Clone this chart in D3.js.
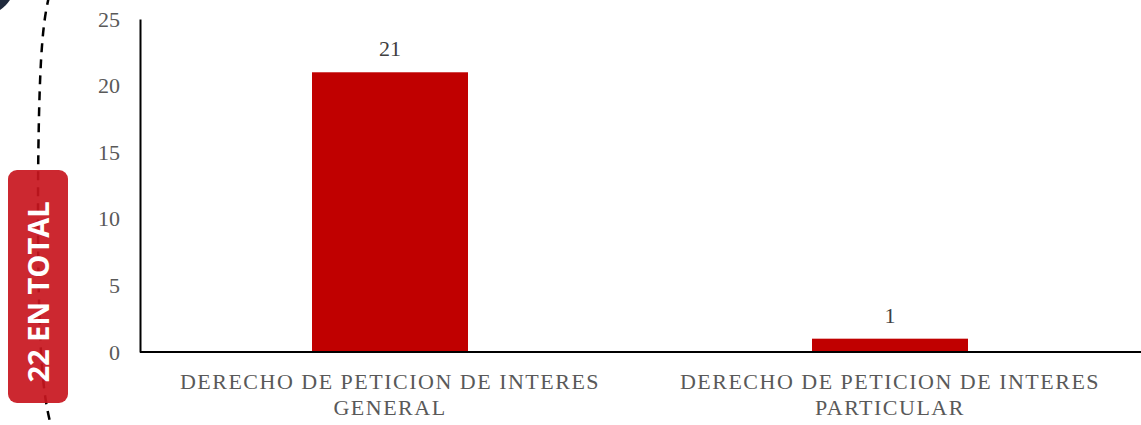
<!DOCTYPE html>
<html>
<head>
<meta charset="utf-8">
<script src="https://cdn.jsdelivr.net/npm/d3@7"></script>
<style>
	body { margin: 0; background: #fff; }
	.serif { font-family: 'Liberation Serif', 'DejaVu Serif', serif; }
</style>
</head>
<body>
<div id="chart"></div>
<script>
// data
var categories = [
	['DERECHO DE PETICION DE INTERES', 'GENERAL'],
	['DERECHO DE PETICION DE INTERES', 'PARTICULAR']
];
var values = [21, 1];
var yTicks = [0, 5, 10, 15, 20, 25];
var totalLabel = '22 EN TOTAL';

var w = 1141;
var h = 425;
var mLeft = 140;
var mRight = 1140;
var mTop = 19;
var mBottom = 352;

var svg = d3.select('#chart').append('svg').attr('width', w).attr('height', h);

// decoracion izquierda
svg.append('circle').attr('cx', -20).attr('cy', -20).attr('r', 36).attr('fill', '#1f2a3c');

var arcLine = d3.line().curve(d3.curveBasis);
svg
	.append('path')
	.attr('d', arcLine([ [ 49, -4 ], [ 40, 40 ], [ 37, 210 ], [ 40, 380 ], [ 52, 430 ] ]))
	.attr('fill', 'none')
	.attr('stroke', '#000')
	.attr('stroke-width', 2.5)
	.attr('stroke-dasharray', '9,7');

svg
	.append('rect')
	.attr('x', 8)
	.attr('y', 170)
	.attr('width', 60)
	.attr('height', 233)
	.attr('rx', 9)
	.attr('fill', '#c8161e')
	.attr('fill-opacity', 0.92);

svg
	.append('text')
	.text(totalLabel)
	.attr('transform', 'translate(49, 292) rotate(-90)')
	.attr('text-anchor', 'middle')
	.attr('font-family', 'Open Sans, sans-serif')
	.attr('font-weight', 'bold')
	.attr('font-size', '29px')
	.attr('fill', '#fff');

// escalas
var xScale = d3.scaleBand().domain(d3.range(values.length)).range([ mLeft, mRight ]).padding(0);
var yScale = d3.scaleLinear().domain([ 0, 25 ]).range([ mBottom, mTop ]);
var barW = xScale.bandwidth() * 0.312;

var yAxis = d3.axisLeft(yScale).tickValues(yTicks).tickSize(0).tickPadding(20);
var gy = svg.append('g').attr('transform', 'translate(' + mLeft + ',0)').call(yAxis);
gy.attr('font-family', null).attr('font-size', null);
gy.select('.domain').attr('stroke', '#000').attr('stroke-width', 2);
gy
	.selectAll('text')
	.attr('class', 'serif')
	.style('font-size', '22px')
	.attr('fill', '#595959');

svg
	.selectAll('rect.bar')
	.data(values)
	.enter()
	.append('rect')
	.attr('class', 'bar')
	.attr('x', function(d, i) {
		return xScale(i) + xScale.bandwidth() / 2 - barW / 2;
	})
	.attr('y', function(d) {
		return yScale(d);
	})
	.attr('width', barW)
	.attr('height', function(d) {
		return yScale(0) - yScale(d);
	})
	.attr('fill', '#c00000');

// eje x
svg
	.append('line')
	.attr('x1', mLeft)
	.attr('x2', w)
	.attr('y1', yScale(0))
	.attr('y2', yScale(0))
	.attr('stroke', '#000')
	.attr('stroke-width', 2);

svg
	.selectAll('text.val')
	.data(values)
	.enter()
	.append('text')
	.attr('class', 'val serif')
	.text(function(d) {
		return d;
	})
	.attr('x', function(d, i) {
		return xScale(i) + xScale.bandwidth() / 2;
	})
	.attr('y', function(d) {
		return yScale(d) - 16;
	})
	.attr('text-anchor', 'middle')
	.style('font-size', '22px')
	.attr('fill', '#404040');

var cat = svg
	.selectAll('text.cat')
	.data(categories)
	.enter()
	.append('text')
	.attr('class', 'cat serif')
	.attr('x', function(d, i) {
		return xScale(i) + xScale.bandwidth() / 2;
	})
	.attr('y', 389)
	.attr('text-anchor', 'middle')
	.style('font-size', '22px')
	.style('letter-spacing', '1.5px')
	.attr('fill', '#595959');

cat
	.selectAll('tspan')
	.data(function(d) {
		return d;
	})
	.enter()
	.append('tspan')
	.attr('x', function() {
		return d3.select(this.parentNode).attr('x');
	})
	.attr('dy', function(d, i) {
		return i === 0 ? 0 : 26;
	})
	.text(function(d) {
		return d;
	});
</script>
</body>
</html>
